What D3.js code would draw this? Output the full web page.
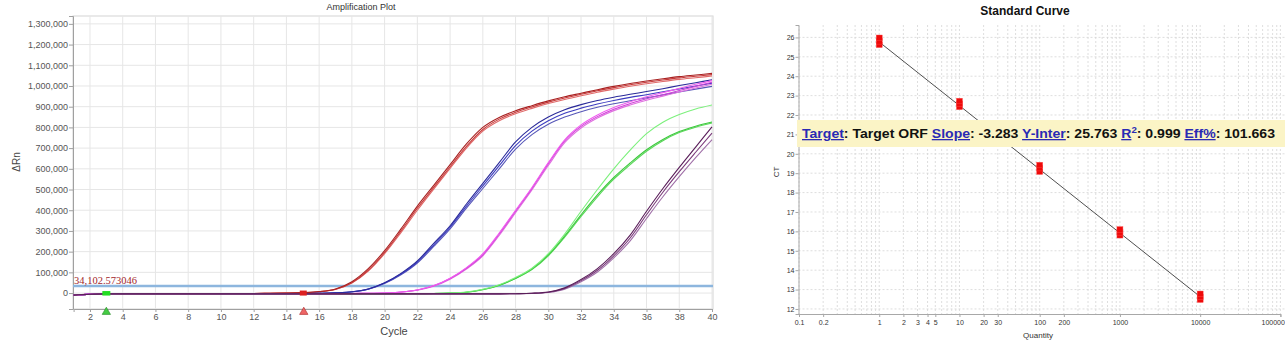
<!DOCTYPE html>
<html><head><meta charset="utf-8">
<script src="https://cdn.jsdelivr.net/npm/d3@7"></script>
<style>body{margin:0;background:#fff;} svg{display:block;font-family:"Liberation Sans",Arial,sans-serif;}</style>
</head><body>
<svg id="c" width="1285" height="342"></svg>
<script>
// ---------- Amplification plot data (ΔRn in thousands) ----------
const cycles = [1,2,3,4,5,6,7,8,9,10,11,12,13,14,15,16,17,18,19,20,21,22,23,24,25,26,27,28,29,30,31,32,33,34,35,36,37,38,39,40];
const red1 = [-10,-5,-2,-2,-2,-2,-2,-2,-2,-2,-2,-2,-1,0,2,7,20,55,118,205,310,420,520,620,720,800,848,880,905,928,948,965,982,998,1012,1024,1035,1045,1053,1061];
const red2 = [-9,-5,-2,-2,-2,-2,-2,-2,-2,-2,-2,-2,-1,0,2,6,18,50,110,196,300,410,510,610,708,790,840,873,899,922,942,960,977,992,1006,1018,1029,1039,1047,1055];
const red3 = [-11,-6,-3,-2,-2,-2,-2,-2,-2,-2,-2,-2,-1,0,1,6,17,48,106,190,292,400,502,602,700,782,832,866,892,915,935,953,970,985,999,1011,1022,1032,1040,1048];
const blue1 = [-10,-5,-2,-2,-2,-2,-2,-2,-2,-2,-2,-2,-2,-2,-2,-1,1,6,20,50,95,155,240,325,430,530,630,730,800,850,885,910,930,946,960,973,987,1002,1016,1030];
const blue2 = [-10,-5,-2,-2,-2,-2,-2,-2,-2,-2,-2,-2,-2,-2,-2,-1,1,6,19,48,92,150,232,318,420,518,615,712,782,832,868,893,913,930,945,958,972,986,1000,1014];
const blue3 = [-10,-5,-2,-2,-2,-2,-2,-2,-2,-2,-2,-2,-2,-2,-2,-1,1,5,18,46,88,145,225,310,410,505,600,695,765,815,850,876,897,914,929,943,957,971,985,998];
const magenta1 = [-10,-5,-3,-3,-3,-3,-3,-3,-3,-3,-3,-3,-3,-3,-3,-3,-3,-2,-1,0,5,15,35,70,120,185,285,395,505,625,735,805,852,888,915,938,958,978,998,1018];
const magenta2 = [-10,-5,-3,-3,-3,-3,-3,-3,-3,-3,-3,-3,-3,-3,-3,-3,-3,-2,-1,0,4,14,33,67,116,180,278,388,498,616,726,797,845,881,908,931,951,971,990,1008];
const magenta3 = [-10,-5,-3,-3,-3,-3,-3,-3,-3,-3,-3,-3,-3,-3,-3,-3,-3,-2,-1,0,5,15,36,72,123,190,290,400,510,630,740,812,860,896,924,948,968,988,1008,1026];
const green1 = [-10,-6,-4,-4,-4,-4,-4,-4,-4,-4,-4,-4,-4,-4,-4,-4,-4,-4,-4,-4,-3,-3,-2,0,5,18,40,75,120,190,285,395,500,600,690,770,825,862,889,908];
const green2 = [-10,-6,-4,-4,-4,-4,-4,-4,-4,-4,-4,-4,-4,-4,-4,-4,-4,-4,-4,-4,-3,-3,-2,0,4,16,37,70,113,180,270,370,465,550,620,685,736,775,801,821];
const green3 = [-10,-6,-4,-4,-4,-4,-4,-4,-4,-4,-4,-4,-4,-4,-4,-4,-4,-4,-4,-4,-3,-3,-2,0,4,17,38,72,116,184,276,378,474,558,628,692,742,780,806,826];
const purple1 = [-10,-6,-4,-4,-4,-4,-4,-4,-4,-4,-4,-4,-4,-4,-4,-4,-4,-4,-4,-4,-4,-4,-4,-4,-4,-4,-4,-3,-1,5,25,65,118,190,280,395,505,607,705,803];
const purple2 = [-10,-6,-4,-4,-4,-4,-4,-4,-4,-4,-4,-4,-4,-4,-4,-4,-4,-4,-4,-4,-4,-4,-4,-4,-4,-4,-4,-3,-1,4,22,60,110,180,266,378,487,586,680,772];
const purple3 = [-10,-6,-4,-4,-4,-4,-4,-4,-4,-4,-4,-4,-4,-4,-4,-4,-4,-4,-4,-4,-4,-4,-4,-4,-4,-4,-4,-3,-2,3,19,55,102,170,252,360,465,562,654,741];
const ampSeries = [
  {v: green2, c: "#5ad85a"}, {v: green3, c: "#3cc83c"}, {v: green1, c: "#7cf07c"},
  {v: red3, c: "#e06a6a"}, {v: red2, c: "#c83a3a"}, {v: red1, c: "#a82222"},
  {v: blue3, c: "#5858b8"}, {v: blue2, c: "#3c3cc0"}, {v: blue1, c: "#2a2a9a"},
  {v: magenta2, c: "#e070e0"}, {v: magenta1, c: "#d040d8"}, {v: magenta3, c: "#f05cf0"},
  {v: purple3, c: "#a070a8"}, {v: purple2, c: "#7a3a7a"}, {v: purple1, c: "#5a1e5a"}
];
const ampTitle = "Amplification Plot";
const ampYTicks = [0,100,200,300,400,500,600,700,800,900,1000,1100,1200,1300];
const ampXTicks = [2,4,6,8,10,12,14,16,18,20,22,24,26,28,30,32,34,36,38,40];
const thresholdValue = 34.102573046;
const thresholdLabel = "34,102.573046";
const baselineStart = 3, baselineEnd = 15;

// ---------- Standard curve data ----------
const stdQuantity = [1,1,1,10,10,10,100,100,100,1000,1000,1000,10000,10000,10000];
const stdCt = [25.62,25.8,25.98,22.42,22.58,22.72,19.08,19.26,19.42,15.8,15.95,16.1,12.48,12.62,12.78];
const stdSlope = -3.283, stdIntercept = 25.763;
const stdXTicks = [0.1,0.2,1,2,3,4,5,10,20,30,100,200,1000,10000,100000];
const stdYTicks = [12,13,14,15,16,17,18,19,20,21,22,23,24,25,26];
const annot = [
  {t:"Target", l:true},{t:": Target ORF "},{t:"Slope", l:true},{t:": -3.283 "},
  {t:"Y-Inter", l:true},{t:": 25.763 "},{t:"R", l:true},{t:"2", l:true, sup:true},{t:": 0.999 "},
  {t:"Eff%", l:true},{t:": 101.663"}
];

const svg = d3.select("#c");

// ================= LEFT: Amplification Plot =================
const L = {l:73, r:713, t:16, b:309};
const x = d3.scaleLinear().domain([1,40]).range([73.6,712]);
const y = d3.scaleLinear().domain([-77,1338]).range([L.b, L.t]);
const g = svg.append("g");

g.append("rect").attr("x",L.l).attr("y",L.t).attr("width",L.r-L.l).attr("height",L.b-L.t)
  .attr("fill","#fff").attr("stroke","#d4d4d4");
g.selectAll(".vg").data(ampXTicks).join("line")
  .attr("x1",d=>x(d)).attr("x2",d=>x(d)).attr("y1",L.t).attr("y2",L.b)
  .attr("stroke","#e6e6e6");
g.selectAll(".hg").data(ampYTicks).join("line")
  .attr("x1",L.l).attr("x2",L.r).attr("y1",d=>y(d)).attr("y2",d=>y(d))
  .attr("stroke","#e6e6e6");

// axes
const yAx = g.append("g").attr("transform",`translate(${L.l},0)`)
  .call(d3.axisLeft(y).tickValues(ampYTicks).tickSize(4).tickFormat(d=>d3.format(",")(d*1000)));
const xAx = g.append("g").attr("transform",`translate(0,${L.b})`)
  .call(d3.axisBottom(x).tickValues(ampXTicks).tickSize(3).tickFormat(d3.format("d")));
[yAx,xAx].forEach(a=>{
  a.select(".domain").attr("stroke","#a0a0a0");
  a.selectAll(".tick line").attr("stroke","#a0a0a0");
  a.selectAll("text").attr("fill","#555").attr("font-size","9px").attr("font-family","'Liberation Sans',Arial,sans-serif");
});
yAx.selectAll("text").attr("x",-5);
xAx.selectAll("text").attr("y",5);

// threshold
g.append("line").attr("x1",L.l).attr("x2",L.r).attr("y1",y(thresholdValue)).attr("y2",y(thresholdValue))
  .attr("stroke","#8db6de").attr("stroke-width",2.4);
g.append("text").attr("x",L.l+1).attr("y",y(thresholdValue)-1.5).text(thresholdLabel)
  .attr("font-family","'Liberation Serif',serif").attr("font-size","10.5px").attr("fill","#a3262a");

// curves
const line = d3.line().x((d,i)=>x(cycles[i])).y(d=>y(d)).curve(d3.curveMonotoneX);
g.selectAll(".curve").data(ampSeries).join("path")
  .attr("d",d=>line(d.v)).attr("fill","none").attr("stroke",d=>d.c).attr("stroke-width",1.1);

// baseline markers
g.append("rect").attr("x",x(baselineStart)-4).attr("y",y(0)-2).attr("width",8).attr("height",4.5).attr("fill","#22dd22");
g.append("rect").attr("x",x(baselineEnd)-3).attr("y",y(0)-2.5).attr("width",7).attr("height",5).attr("fill","#dd2020");
const tri = d3.symbol().type(d3.symbolTriangle).size(30);
g.append("path").attr("d",tri).attr("transform",`translate(${x(baselineStart)},${L.b+3})`).attr("fill","#44cc44").attr("stroke","#228822").attr("stroke-width",0.6);
g.append("path").attr("d",tri).attr("transform",`translate(${x(baselineEnd)+1},${L.b+3})`).attr("fill","#ee6666").attr("stroke","#aa2222").attr("stroke-width",0.6);

// labels
g.append("text").attr("x",361).attr("y",10).attr("text-anchor","middle").attr("font-size","9px").attr("fill","#333").text(ampTitle);
g.append("text").attr("transform","translate(20,162) rotate(-90)").attr("text-anchor","middle").attr("font-size","10px").attr("fill","#444").text("ΔRn");
g.append("text").attr("x",394).attr("y",335).attr("text-anchor","middle").attr("font-size","11px").attr("fill","#444").text("Cycle");

// ================= RIGHT: Standard Curve =================
const R = {l:798.5, r:1285, t:25, b:314};
const xs = d3.scaleLog().domain([0.1,100000]).range([799,1280.4]);
const ys = d3.scaleLinear().domain([11.74,26.64]).range([R.b,R.t]);
const h = svg.append("g");

h.selectAll(".svg").data(xs.ticks()).join("line")
  .attr("x1",d=>xs(d)).attr("x2",d=>xs(d)).attr("y1",R.t).attr("y2",R.b)
  .attr("stroke","#d6d6d6").attr("stroke-dasharray","2,2").attr("stroke-width",0.8);
h.selectAll(".shg").data(stdYTicks).join("line")
  .attr("x1",R.l).attr("x2",R.r).attr("y1",d=>ys(d)).attr("y2",d=>ys(d))
  .attr("stroke","#d6d6d6").attr("stroke-dasharray","2,2").attr("stroke-width",0.8);

const ysAx = h.append("g").attr("transform",`translate(${R.l},0)`)
  .call(d3.axisLeft(ys).tickValues(stdYTicks).tickSize(3).tickFormat(d3.format("d")));
const xsAx = h.append("g").attr("transform",`translate(0,${R.b})`)
  .call(d3.axisBottom(xs).tickValues(stdXTicks).tickSize(3).tickFormat(d=>String(d)));
[ysAx,xsAx].forEach(a=>{
  a.select(".domain").attr("stroke","#a8a8a8");
  a.selectAll(".tick line").attr("stroke","#a8a8a8");
  a.selectAll("text").attr("fill","#333").attr("font-size","7px").attr("font-family","'Liberation Sans',Arial,sans-serif");
});
ysAx.selectAll("text").attr("x",-4);
xsAx.selectAll("text").attr("y",6);
// keep the last (edge) label readable inside the page
xsAx.selectAll(".tick").filter(d=>d===100000).select("text").attr("text-anchor","end").attr("x",4);

// regression line
h.append("line")
  .attr("x1",xs(1)).attr("y1",ys(stdSlope*Math.log10(1)+stdIntercept))
  .attr("x2",xs(10000)).attr("y2",ys(stdSlope*Math.log10(10000)+stdIntercept))
  .attr("stroke","#222").attr("stroke-width",0.8);

// points
h.selectAll(".pt").data(stdQuantity).join("rect")
  .attr("x",d=>xs(d)-3).attr("y",(d,i)=>ys(stdCt[i])-2.8).attr("width",6).attr("height",5.6)
  .attr("fill","#ee0a0a").attr("stroke","#ff5050").attr("stroke-width",0.4);

// titles
h.append("text").attr("x",1025).attr("y",15).attr("text-anchor","middle").attr("font-weight","bold")
  .attr("font-size","12px").attr("fill","#111").text("Standard Curve");
h.append("text").attr("transform","translate(779,172) rotate(-90)").attr("text-anchor","middle")
  .attr("font-size","8px").attr("fill","#333").text("CT");
h.append("text").attr("x",1038).attr("y",338).attr("text-anchor","middle")
  .attr("font-size","8px").attr("fill","#333").text("Quantity");

// annotation box
h.append("rect").attr("x",797).attr("y",120).attr("width",490).attr("height",27).attr("fill","#fbf4c6");
const at = h.append("text").attr("x",802).attr("y",138).attr("font-weight","bold").attr("font-size","13px")
  .attr("font-family","'Liberation Sans',Arial,sans-serif");
annot.forEach(a=>{
  const ts = at.append("tspan").text(a.t).attr("fill", a.l ? "#2a2ab4" : "#111");
  if (a.l && !a.sup) ts.attr("text-decoration","underline");
  if (a.sup) ts.attr("font-size","9px").attr("dy","-5");
  if (a.t.startsWith(": 0.999")) ts.attr("dy","5");
});
at.attr("textLength",473).attr("lengthAdjust","spacingAndGlyphs");
</script>
</body></html>
